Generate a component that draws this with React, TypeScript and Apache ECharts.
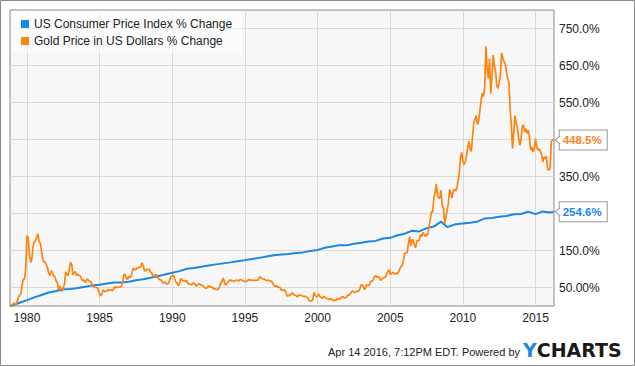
import React, { useEffect, useRef } from 'react';
import * as echarts from 'echarts';

// ---- data ----
const goldStartYear = 1978;
const goldStartMonth = 11; // first monthly value = Nov 1978
const goldPct = [
  0, 2, // 1978 Nov-Dec
  3, 8, 6, 5, 13, 23, 30, 33, 56, 73, 72, 101, // 1979
  190, 186, 140, 118, 126, 160, 172, 176, 185, 195, 175, 170, // 1980
  150, 128, 120, 118, 112, 103, 88, 82, 95, 92, 80, 80, // 1981
  69, 64, 45, 54, 47, 39, 49, 60, 92, 86, 82, 100, // 1982
  118, 112, 84, 90, 93, 82, 86, 83, 81, 73, 68, 71, // 1983
  63, 70, 73, 68, 66, 66, 53, 53, 50, 50, 50, 41, // 1984
  33, 27, 34, 43, 39, 40, 40, 45, 42, 44, 43, 42, // 1985
  52, 49, 52, 50, 51, 51, 53, 66, 84, 86, 75, 72, // 1986
  80, 77, 80, 93, 103, 98, 99, 103, 103, 105, 106, 117, // 1987
  110, 95, 95, 99, 99, 99, 92, 90, 82, 79, 85, 84, // 1988
  78, 71, 72, 69, 63, 62, 65, 61, 59, 62, 72, 80, // 1989
  81, 84, 73, 65, 62, 55, 59, 74, 71, 68, 68, 66, // 1990
  69, 60, 60, 58, 57, 62, 62, 57, 54, 58, 59, 59, // 1991
  56, 56, 52, 49, 48, 50, 55, 51, 52, 51, 47, 47, // 1992
  45, 45, 45, 51, 62, 64, 76, 67, 56, 61, 64, 69, // 1993
  70, 68, 69, 66, 68, 70, 70, 67, 72, 71, 69, 67, // 1994
  67, 66, 68, 72, 70, 70, 70, 69, 69, 69, 70, 70, // 1995
  78, 78, 74, 73, 73, 70, 69, 70, 69, 68, 66, 62, // 1996
  56, 53, 55, 51, 51, 50, 43, 43, 42, 43, 35, 27, // 1997
  27, 31, 30, 36, 32, 29, 29, 25, 27, 30, 29, 28, // 1998
  26, 26, 26, 24, 22, 15, 13, 13, 17, 37, 29, 25, // 1999
  25, 32, 26, 23, 21, 26, 24, 21, 20, 19, 17, 20, // 2000
  17, 15, 16, 14, 20, 19, 18, 20, 25, 25, 22, 22, // 2001
  24, 30, 29, 33, 38, 41, 38, 36, 40, 40, 40, 47, // 2002
  57, 58, 50, 44, 56, 57, 55, 59, 67, 67, 71, 79, // 2003
  82, 78, 79, 78, 69, 73, 75, 77, 79, 85, 93, 98, // 2004
  87, 86, 91, 89, 86, 89, 87, 93, 101, 107, 110, 125, // 2005
  142, 144, 145, 169, 188, 162, 179, 178, 163, 158, 176, 177, // 2006
  178, 193, 188, 199, 194, 188, 193, 193, 214, 232, 255, 253, // 2007
  291, 306, 330, 300, 291, 292, 313, 269, 265, 222, 240, 259, // 2008
  278, 315, 307, 292, 309, 316, 311, 318, 338, 359, 400, 415, // 2009
  392, 382, 390, 405, 430, 445, 425, 418, 459, 495, 505, 515, // 2010
  490, 500, 527, 555, 575, 566, 590, 702, 640, 615, 669, 574, // 2011
  620, 678, 650, 633, 595, 588, 605, 624, 684, 670, 660, 655, // 2012
  633, 615, 605, 530, 490, 425, 470, 515, 495, 484, 455, 434, // 2013
  450, 484, 490, 470, 479, 466, 475, 457, 421, 430, 416, 425, // 2014
  452, 430, 421, 425, 418, 410, 389, 403, 398, 405, 370, 367, // 2015
  372, 443, 450, 448.5, // 2016 Jan-Apr
];

const cpiDates = [
  '1978-11', '1979-01', '1979-07', '1980-01', '1980-07', '1981-01', '1981-07', '1982-01', '1982-07',
  '1983-01', '1983-07', '1984-01', '1984-07', '1985-01', '1985-07', '1986-01', '1986-07', '1987-01',
  '1987-07', '1988-01', '1988-07', '1989-01', '1989-07', '1990-01', '1990-07', '1991-01', '1991-07',
  '1992-01', '1992-07', '1993-01', '1993-07', '1994-01', '1994-07', '1995-01', '1995-07', '1996-01',
  '1996-07', '1997-01', '1997-07', '1998-01', '1998-07', '1999-01', '1999-07', '2000-01', '2000-07',
  '2001-01', '2001-07', '2002-01', '2002-07', '2003-01', '2003-07', '2004-01', '2004-07', '2005-01',
  '2005-07', '2006-01', '2006-07', '2007-01', '2007-07', '2008-01', '2008-07', '2008-12', '2009-07',
  '2010-01', '2010-07', '2011-01', '2011-07', '2012-01', '2012-07', '2013-01', '2013-07', '2014-01',
  '2014-07', '2015-01', '2015-07', '2016-01', '2016-04',
];
const cpiPct = [
  0, 1.8, 8.9, 15.9, 23.2, 29.7, 36.5, 40.5, 45.3,
  45.8, 48.9, 51.9, 55.7, 57.2, 60.7, 63.3, 63.2, 65.7,
  69.6, 72.4, 76.6, 80.5, 85.4, 89.9, 94.3, 100.6, 103.0,
  105.8, 109.4, 112.5, 115.2, 117.9, 121.2, 124.0, 127.3, 130.1,
  134.0, 137.1, 139.2, 140.8, 143.2, 144.9, 148.4, 151.6, 157.5,
  161.0, 164.5, 163.9, 168.4, 170.8, 174.1, 176.0, 182.3, 184.2,
  191.2, 195.5, 203.3, 201.6, 210.4, 214.6, 227.9, 213.3, 220.9,
  223.0, 224.9, 228.2, 236.7, 237.8, 241.4, 243.2, 248.1, 248.6,
  255.1, 248.3, 255.7, 253.0, 254.6,
];

const xTickYears = [1980, 1985, 1990, 1995, 2000, 2005, 2010, 2015];
const yTickValues = [50, 150, 350, 550, 650, 750];
const yTickLabels = ['50.00%', '150.0%', '350.0%', '550.0%', '650.0%', '750.0%'];
const seriesNames = ['US Consumer Price Index % Change', 'Gold Price in US Dollars % Change'];
const footerText = 'Apr 14 2016, 7:12PM EDT. Powered by';

const BLUE = '#1b87e5';
const ORANGE = '#ff830f';
const FONT = "'Liberation Sans', Arial, sans-serif";

function monthToYear(s: string): number {
  const [y, m] = s.split('-').map(Number);
  return y + (m - 1) / 12;
}

const goldData: [number, number][] = goldPct.map((v, i) => [
  goldStartYear + (goldStartMonth - 1 + i) / 12,
  v,
]);
const cpiData: [number, number][] = cpiDates.map((d, i) => [monthToYear(d), cpiPct[i]]);

const xMin = goldStartYear + (goldStartMonth - 1) / 12;
const xMax = 2016.27;

function endLabel(color: string) {
  return {
    show: true,
    formatter: (p: any) => Number(p.value[1]).toFixed(1) + '%',
    color,
    fontWeight: 'bold' as const,
    fontSize: 11.5,
    fontFamily: FONT,
    lineHeight: 13,
    backgroundColor: '#ffffff',
    borderColor: '#999999',
    borderWidth: 1,
    padding: [3, 5, 3, 3],
    distance: 6,
  };
}

function pointer(last: [number, number]) {
  return {
    silent: true,
    symbol: 'path://M5,0L0,4L5,8',
    symbolSize: [5, 8],
    symbolOffset: [4, 0],
    itemStyle: { color: '#ffffff', borderColor: '#999999', borderWidth: 1 },
    label: { show: false },
    data: [{ coord: last }],
  };
}

export default function App() {
  const ref = useRef<HTMLDivElement>(null);

  useEffect(() => {
    if (!ref.current) return;
    const chart = echarts.init(ref.current, undefined, { renderer: 'svg' });
    chart.setOption({
      animation: false,
      backgroundColor: '#ffffff',
      grid: {
        left: 10,
        right: 81,
        top: 10,
        bottom: 60,
        show: true,
        backgroundColor: '#f7f7f7',
        borderColor: '#8a8a8a',
        borderWidth: 1,
        containLabel: false,
        outerBoundsMode: 'none',
      },
      legend: {
        left: 11,
        top: 11,
        orient: 'vertical',
        padding: [6, 10, 5, 10],
        backgroundColor: 'rgba(255,255,255,0.6)',
        itemWidth: 8,
        itemHeight: 8,
        itemGap: 3,
        icon: 'rect',
        itemStyle: { borderWidth: 0 },
        textStyle: { fontSize: 12, color: '#222', fontFamily: FONT, lineHeight: 14 },
        data: seriesNames,
        selectedMode: false,
      },
      xAxis: {
        type: 'value',
        min: xMin,
        max: xMax,
        splitNumber: 7,
        minInterval: 5,
        maxInterval: 5,
        axisLine: { show: false },
        axisTick: { show: false },
        axisLabel: {
          margin: 6,
          color: '#222',
          fontSize: 12,
          fontFamily: FONT,
          showMinLabel: false,
          showMaxLabel: false,
          formatter: (v: number) => {
            const r = Math.round(v);
            return Math.abs(v - r) < 1e-6 && xTickYears.includes(r) ? String(r) : '';
          },
        },
        splitLine: {
          show: true,
          showMinLine: false,
          showMaxLine: false,
          lineStyle: { color: '#d9d9d9', width: 1 },
        },
      },
      yAxis: {
        type: 'value',
        position: 'right',
        min: 0,
        max: 800,
        interval: 50,
        axisLine: { show: false },
        axisTick: { show: false },
        axisLabel: {
          margin: 5,
          color: '#222',
          fontSize: 12,
          fontFamily: FONT,
          formatter: (v: number) => {
            const i = yTickValues.indexOf(Math.round(v));
            return i >= 0 ? yTickLabels[i] : '';
          },
        },
        splitLine: {
          show: true,
          lineStyle: { color: ['rgba(0,0,0,0)', '#d9d9d9'], width: 1 },
        },
      },
      series: [
        {
          name: seriesNames[0],
          type: 'line',
          data: cpiData,
          symbol: 'none',
          showSymbol: false,
          lineStyle: { color: BLUE, width: 2 },
          itemStyle: { color: BLUE },
          endLabel: endLabel(BLUE),
          markPoint: pointer(cpiData[cpiData.length - 1]),
          z: 2,
        },
        {
          name: seriesNames[1],
          type: 'line',
          data: goldData,
          symbol: 'none',
          showSymbol: false,
          lineStyle: { color: ORANGE, width: 1.7 },
          itemStyle: { color: ORANGE },
          endLabel: endLabel('#f7861f'),
          markPoint: pointer(goldData[goldData.length - 1]),
          z: 3,
        },
      ],
      graphic: [
        {
          type: 'rect',
          silent: true,
          shape: { x: 0.5, y: 0.5, width: 634, height: 365 },
          style: { fill: 'none', stroke: '#8a8a8a', lineWidth: 1 },
        },
        {
          type: 'text',
          silent: true,
          x: 520,
          y: 352,
          style: {
            text: footerText,
            fill: '#222',
            fontSize: 11,
            fontFamily: FONT,
            align: 'right',
            verticalAlign: 'middle',
          },
        },
        {
          type: 'text',
          silent: true,
          x: 523,
          y: 350,
          style: {
            text: '{y|Y}{c|CHARTS}',
            verticalAlign: 'middle',
            align: 'left',
            rich: {
              y: { fill: BLUE, fontSize: 19, fontWeight: 'bold', fontFamily: "'DejaVu Sans', sans-serif" },
              c: { fill: '#1a1a1a', fontSize: 19, fontWeight: 'bold', fontFamily: "'DejaVu Sans', sans-serif" },
            },
          },
        },
      ],
    });
    return () => chart.dispose();
  }, []);

  return (
    <div
      ref={ref}
      style={{ position: 'absolute', left: 0, top: 0, width: 635, height: 366 }}
    />
  );
}
